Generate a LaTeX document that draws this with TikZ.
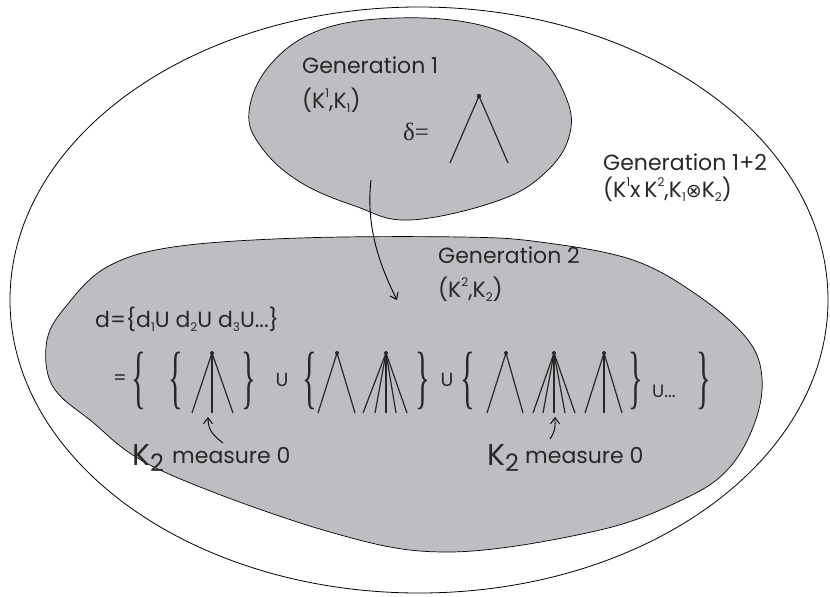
\documentclass[tikz,border=0pt]{standalone}
\usepackage{fontspec}
\setmainfont{Poppins}
\newfontfamily\tms{Liberation Serif}
\newfontfamily\djv{DejaVu Sans}
\usetikzlibrary{arrows.meta}
\definecolor{blobgray}{RGB}{189,190,194}
\definecolor{inkc}{RGB}{40,40,40}
\newcommand\upsc[1]{\raisebox{0.5em}{\fontsize{12}{12}\selectfont #1}}
\newcommand\dnsc[1]{\raisebox{-0.22em}{\fontsize{12}{12}\selectfont #1}}
\newcommand\bigbrL{\scalebox{0.9}[2.05]{\tms\fontsize{34}{34}\selectfont\{}}
\newcommand\bigbrR{\scalebox{0.9}[2.05]{\tms\fontsize{34}{34}\selectfont\}}}
\begin{document}
\begin{tikzpicture}[x=1pt,y=-1pt,line join=round,
  lbl/.style={anchor=base west,inner sep=0pt,text=inkc,font=\fontsize{22}{26}\selectfont},
  brc/.style={inner sep=0pt,text=inkc},
  uni/.style={inner sep=0pt,text=inkc,font=\fontsize{19}{19}\selectfont},
  branch/.style={line width=1.2pt,draw=inkc},
  blob/.style={draw=black,line width=0.7pt,fill=blobgray},
  arr/.style={draw=black,line width=0.9pt,-{Straight Barb[length=6pt,width=9pt]}}]
\useasboundingbox (0,0) rectangle (830,597);
% outer region
\draw[line width=0.8pt] (419,300) ellipse [x radius=409, y radius=293];
% generation 1 blob
\path[blob] plot[smooth cycle,tension=0.65] coordinates {(397,18) (480,25) (535,52) (565,95) (570,133) (548,170) (500,200) (410,220) (355,206) (300,182) (262,148) (249,112) (270,65) (320,30)};
% generation 2 blob
\path[blob] plot[smooth cycle,tension=0.6] coordinates {(460,237) (540,242) (633,260) (700,297) (748,340) (762,378) (755,422) (730,467) (688,497) (600,530) (450,552) (330,532) (160,470) (90,420) (52,385) (47,340) (67,305) (107,267) (173,247) (300,238)};
% texts generation 1
\node[lbl] (g1) at (302,73) {Generation 1};
\node[lbl] (g1k) at (302,108) {(K\upsc{1},K\dnsc{1})};
\node[lbl,font=\tms\fontsize{25}{25}\selectfont] (delta) at (403,140) {δ=};
% generation 1+2
\node[lbl] (g12) at (603,170) {Generation 1+2};
\node[lbl] (g12k) at (603,197) {(K\upsc{1}x\,K\upsc{2},K\dnsc{1}{\djv\fontsize{19}{19}\selectfont ⊗}K\dnsc{2})};
% generation 2
\node[lbl] (g2) at (438,263) {Generation 2};
\node[lbl] (g2k) at (438,297) {(K\upsc{2},K\dnsc{2})};
\node[lbl] (dset) at (95,327) {d=\{d\dnsc{1}U d\dnsc{2}U d\dnsc{3}U...\}};
% tree in gen1
\fill[inkc] (479,96) circle (2.2pt);
\draw[branch] (450,163) -- (479,96) -- (508,163);
% second line
\node[uni] (eq) at (120,380) {=};
\node[brc] (b1) at (139,381) {\bigbrL};
\node[brc] (b2) at (176,381) {\bigbrL};
\node[brc] (b3) at (249,381) {\bigbrR};
\node[uni] (u1) at (282,380) {U};
\node[brc] (b4) at (310,381) {\bigbrL};
\node[brc] (b5) at (423,381) {\bigbrR};
\node[uni] (u2) at (447,380) {U};
\node[brc] (b6) at (468,381) {\bigbrL};
\node[brc] (b7) at (636,381) {\bigbrR};
\node[lbl,font=\fontsize{18}{18}\selectfont] (u3) at (652,397) {U...};
\node[brc] (b8) at (704,381) {\bigbrR};
% trees
\foreach \ax/\feet in {212/{192,212,233},337/{318,355},386/{363,375,386,396,407},506/{487,523},554/{533,543,554,565,575},604/{585,604,622}}{
  \fill[inkc] (\ax,353) circle (2pt);
  \foreach \f in \feet {\draw[branch] (\ax,353) -- (\f,413);}
}
% measure labels
\node[lbl,font=\fontsize{30}{30}\selectfont] (k2a) at (132,465) {K\raisebox{-0.2em}{\fontsize{24}{24}\selectfont 2}};
\node[lbl] (m0a) at (172,463) {measure 0};
\node[lbl,font=\fontsize{30}{30}\selectfont] (k2b) at (487,465) {K\raisebox{-0.2em}{\fontsize{24}{24}\selectfont 2}};
\node[lbl] (m0b) at (525,463) {measure 0};
% arrows
\coordinate (a1s) at (371,180);
\coordinate (a1e) at (397,300);
\draw[arr] (a1s) .. controls (366,225) and (378,262) .. (a1e);
\coordinate (a2s) at (223,443);
\coordinate (a2e) at (208,417);
\draw[arr] (a2s) .. controls (211,434) and (208,428) .. (a2e);
\coordinate (a3s) at (550,439);
\coordinate (a3e) at (555,417);
\draw[arr] (a3s) .. controls (556,430) and (555,426) .. (a3e);
\end{tikzpicture}
\end{document}
